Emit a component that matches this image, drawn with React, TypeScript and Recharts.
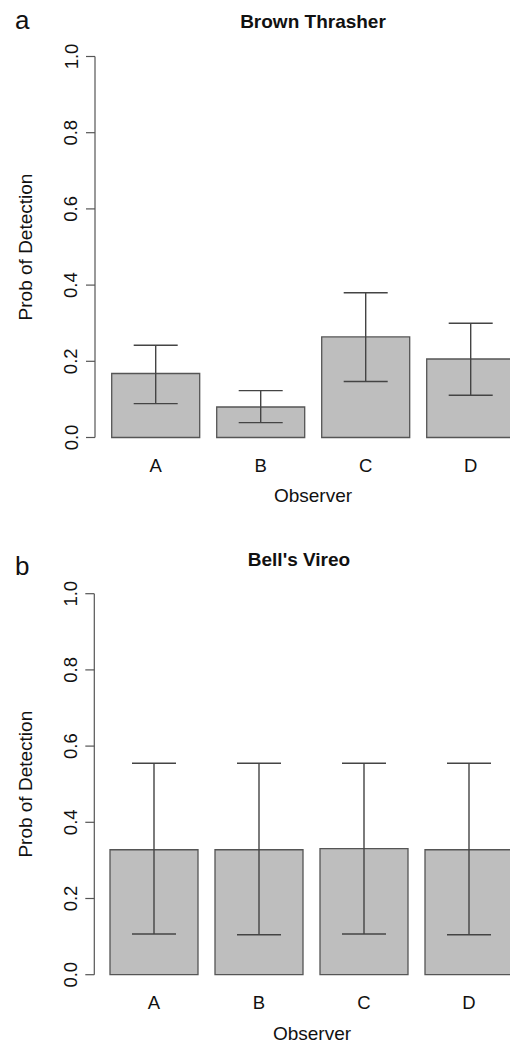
import { Bar, BarChart, XAxis, YAxis, ErrorBar } from 'recharts';

const observers = ['A', 'B', 'C', 'D'];
const yTicks = [0, 0.2, 0.4, 0.6, 0.8, 1.0];

// Brown Thrasher: estimate and interval ends
const thrasherMean = [0.168, 0.080, 0.264, 0.206];
const thrasherLow = [0.089, 0.039, 0.147, 0.111];
const thrasherHigh = [0.242, 0.123, 0.380, 0.300];

// Bell's Vireo
const vireoMean = [0.328, 0.328, 0.331, 0.328];
const vireoLow = [0.107, 0.105, 0.107, 0.105];
const vireoHigh = [0.555, 0.555, 0.555, 0.555];

const FONT = '"Liberation Sans", Arial, Helvetica, sans-serif';
const INK = '#111';
const LINE = '#555';

function buildRows(mean: number[], low: number[], high: number[]) {
    return observers.map((name, i) => ({
        name,
        p: mean[i],
        err: [mean[i] - low[i], high[i] - mean[i]],
    }));
}

const YTick = ({ x, y, payload }: any) => {
    const bx = x - 8.5;
    return (
        <text x={bx} y={y} transform={`rotate(-90 ${bx} ${y})`} textAnchor="middle"
            fontFamily={FONT} fontSize={18.5} fill={INK}>
            {Number(payload.value).toFixed(1)}
        </text>
    );
};

const XTick = ({ x, y, payload }: any) => (
    <text x={x} y={y + 34.5} textAnchor="middle" fontFamily={FONT} fontSize={18.5} fill={INK}>
        {payload.value}
    </text>
);

interface PanelProps {
    top: number;
    marginTop: number;
    axisX: number;
    padLeft: number;
    rows: any[];
    xLabelX: number;
    xLabelBaseline: number;
}

function Panel({ top, marginTop, axisX, padLeft, rows, xLabelX, xLabelBaseline }: PanelProps) {
    const width = 540;
    const height = 1044 - top;
    const plotH = 381;
    const xAxisH = height - marginTop - plotH;
    return (
        <div style={{ position: 'absolute', left: 0, top }}>
            <BarChart width={width} height={height} data={rows}
                margin={{ top: marginTop, right: width - axisX - padLeft - 420, left: 0, bottom: 0 }}
                barCategoryGap={8.5}>
                <XAxis dataKey="name" axisLine={false} tickLine={false} tickSize={0} tickMargin={0}
                    height={xAxisH} padding={{ left: padLeft, right: 0 }} tick={<XTick />} interval={0}
                    label={{
                        content: () => (
                            <text x={xLabelX} y={xLabelBaseline - top}
                                textAnchor="middle" fontFamily={FONT} fontSize={19} fill={INK}>
                                Observer
                            </text>
                        ),
                    }} />
                <YAxis domain={[0, 1]} ticks={yTicks} width={axisX} tickSize={9} tickMargin={0}
                    axisLine={{ stroke: LINE, strokeWidth: 1.2 }} tickLine={{ stroke: LINE, strokeWidth: 1.2 }}
                    tick={<YTick />} interval={0}
                    label={{
                        content: ({ viewBox }: any) => {
                            const cy = viewBox.y + viewBox.height / 2;
                            return (
                                <text x={32} y={cy} transform={`rotate(-90 32 ${cy})`} textAnchor="middle"
                                    fontFamily={FONT} fontSize={19} fill={INK}>
                                    Prob of Detection
                                </text>
                            );
                        },
                    }} />
                <Bar dataKey="p" fill="#bebebe" stroke={LINE} strokeWidth={1.3} isAnimationActive={false}>
                    <ErrorBar dataKey="err" width={22} stroke="#444" strokeWidth={1.4} direction="y" />
                </Bar>
            </BarChart>
        </div>
    );
}

export default function App() {
    const thrasher = buildRows(thrasherMean, thrasherLow, thrasherHigh);
    const vireo = buildRows(vireoMean, vireoLow, vireoHigh);
    return (
        <div style={{ position: 'absolute', left: 0, top: 0, width: 510, height: 1044, overflow: 'hidden', background: '#fff' }}>
            <Panel top={0} marginTop={56.5} axisX={95} padLeft={8.2} rows={thrasher}
                xLabelX={313} xLabelBaseline={501.5} />
            <Panel top={536} marginTop={57.7} axisX={94.3} padLeft={7.2} rows={vireo}
                xLabelX={312} xLabelBaseline={1039.5} />
            <svg width={510} height={1044} style={{ position: 'absolute', left: 0, top: 0, pointerEvents: 'none' }}>
                <text x={15} y={29} fontFamily={FONT} fontSize={26} fill={INK}>a</text>
                <text x={15} y={575} fontFamily={FONT} fontSize={26} fill={INK}>b</text>
                <text x={313} y={27.5} textAnchor="middle" fontFamily={FONT} fontSize={19} fontWeight="bold" fill={INK}>
                    Brown Thrasher
                </text>
                <text x={299} y={565.5} textAnchor="middle" fontFamily={FONT} fontSize={19} fontWeight="bold" fill={INK}>
                    Bell's Vireo
                </text>
            </svg>
        </div>
    );
}
